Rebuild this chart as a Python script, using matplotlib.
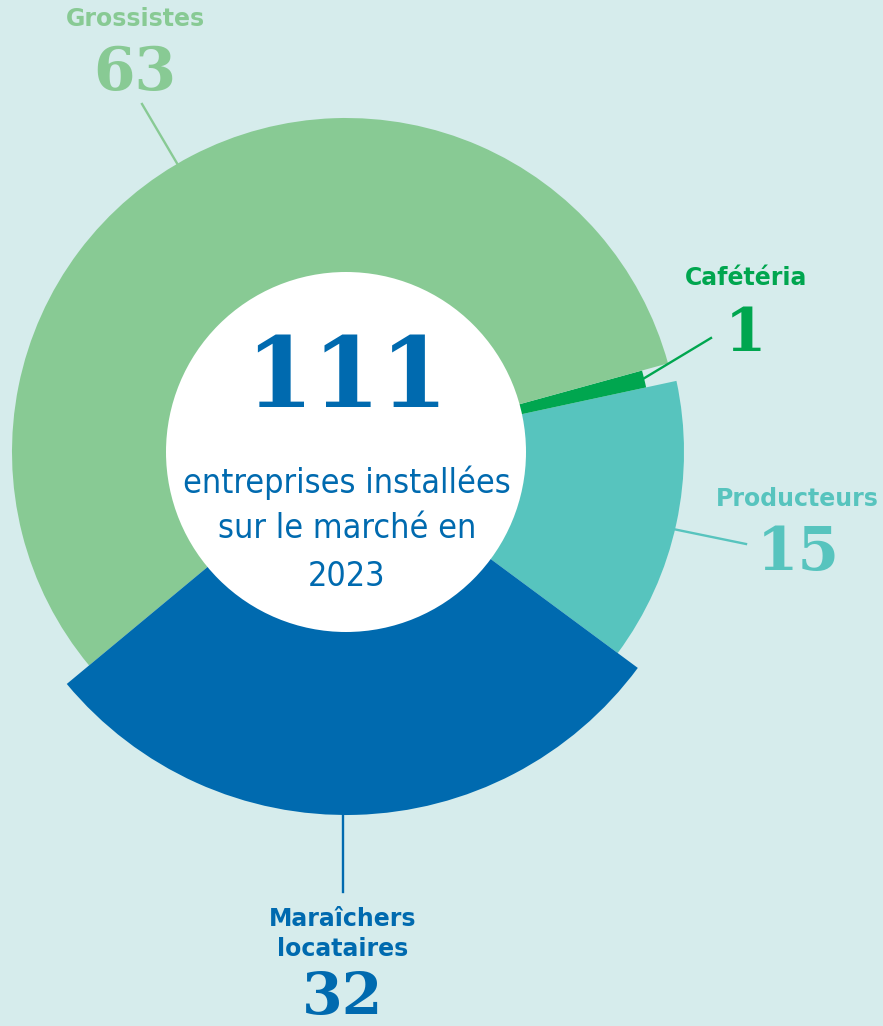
import matplotlib
matplotlib.use("Agg")
import matplotlib.pyplot as plt
from matplotlib.patches import Wedge, Circle
import numpy as np

# data
categories = ["Producteurs", "Cafétéria", "Grossistes", "Maraîchers\nlocataires"]
values = [15, 1, 63, 32]
total = 111
center_lines = ["entreprises installées", "sur le marché en", "2023"]

# style
colors = ["#57C4BE", "#00A64F", "#88CA94", "#006AAF"]
radii = [338, 307, 334, 363]
bg = "#D6ECEC"
cx, cy = 346, 452
hole = 180
start = -36.5

fig = plt.figure(figsize=(8.83, 10.26), dpi=100, facecolor=bg)
ax = fig.add_axes([0, 0, 1, 1])
ax.set_xlim(0, 883)
ax.set_ylim(1026, 0)
ax.axis("off")
ax.set_facecolor(bg)

# angles from values (counterclockwise on screen, y axis is inverted)
spans = np.array(values) / total * 360.0
edges = start + np.concatenate([[0], np.cumsum(spans)])
for i in range(len(values)):
    a1, a2 = edges[i], edges[i + 1]
    ax.add_patch(Wedge((cx, cy), radii[i], -a2, -a1, facecolor=colors[i],
                       edgecolor="none", lw=0))
ax.add_patch(Circle((cx, cy), hole, facecolor="white", edgecolor="none"))

lab_font = dict(family="DejaVu Sans", weight="bold", fontsize=17)
num_font = dict(family="DejaVu Serif", weight="heavy")
nsize = 43

# Grossistes
ax.plot([142, 178], [104, 165], color=colors[2], lw=1.7)
ax.text(135, 19, categories[2], color=colors[2], ha="center", va="center", **lab_font)
ax.text(135, 73, str(values[2]), color=colors[2], ha="center", va="center", fontsize=nsize, **num_font)

# Cafétéria (line starts at the outer edge of its slice)
mid = np.radians((edges[1] + edges[2]) / 2)
x0 = cx + (radii[1] - 2) * np.cos(mid)
y0 = cy - (radii[1] - 2) * np.sin(mid)
ax.plot([x0, 711], [y0, 338], color=colors[1], lw=1.7)
ax.text(746, 278, categories[1], color=colors[1], ha="center", va="center", **lab_font)
ax.text(746, 334, str(values[1]), color=colors[1], ha="center", va="center", fontsize=nsize, **num_font)

# Producteurs
ax.plot([673, 746], [529, 544], color=colors[0], lw=1.7)
ax.text(797, 499, categories[0], color=colors[0], ha="center", va="center", **lab_font)
ax.text(798, 553, str(values[0]), color=colors[0], ha="center", va="center", fontsize=nsize, **num_font)

# Maraichers
ax.plot([343, 343], [815, 892], color=colors[3], lw=1.7)
ax.text(343, 934, categories[3], color=colors[3], ha="center", va="center",
        linespacing=1.35, **lab_font)
ax.text(343, 998, str(values[3]), color=colors[3], ha="center", va="center", fontsize=42, **num_font)

# centre
ax.text(347, 380, str(total), color=colors[3], ha="center", va="center", fontsize=70, **num_font)
for txt, y in zip(center_lines, [483, 529, 576]):
    ax.text(347, y, txt, color=colors[3], ha="center", va="center", fontsize=24.5,
            family="DejaVu Sans", stretch="condensed")

fig.savefig("out.png", dpi=100, facecolor=bg)
